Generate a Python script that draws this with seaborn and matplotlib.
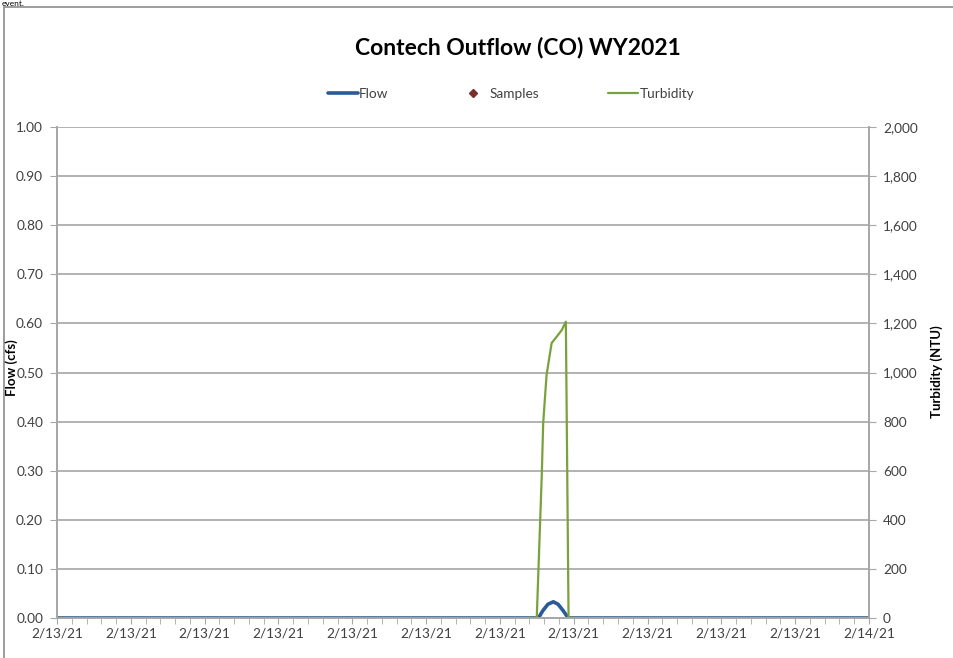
import numpy as np
import pandas as pd
import matplotlib
matplotlib.use('Agg')
import matplotlib.pyplot as plt
import seaborn as sns
from matplotlib.lines import Line2D
from matplotlib.patches import Rectangle

# hours since 2/13/21 00:00
flow_hours = [0, 14.23, 14.36, 14.51, 14.67, 14.81, 14.96, 15.11, 24]
flow_cfs = [0, 0, 0.015, 0.028, 0.033, 0.028, 0.015, 0, 0]

turb_hours = [0, 14.18, 14.33, 14.37, 14.47, 14.62, 14.77, 14.92, 15.04, 15.12, 24]
turb_ntu = [0, 0, 590, 794, 990, 1120, 1146, 1173, 1207, 0, 0]

sample_hours = []
sample_flow = []

tick_labels = ['2/13/21'] * 11 + ['2/14/21']

sns.set_style('white')
plt.rcParams['font.family'] = ['Lato', 'DejaVu Sans']

flow_color = '#2B5A96'
turb_color = '#77A33A'
sample_color = '#7B2C2C'
grid_color = '#A6A6A6'
text_color = '#404040'

fig = plt.figure(figsize=(9.54, 6.58), dpi=100)
ax = fig.add_axes([57 / 954, 1 - 618 / 658, 812 / 954, 491 / 658])
ax2 = ax.twinx()

flow_df = pd.DataFrame({'hours': flow_hours, 'flow': flow_cfs})
turb_df = pd.DataFrame({'hours': turb_hours, 'turb': turb_ntu})

sns.lineplot(data=flow_df, x='hours', y='flow', ax=ax, color=flow_color, linewidth=2.6, legend=False)
ax.scatter(sample_hours, sample_flow, marker='D', color=sample_color, s=20)
sns.lineplot(data=turb_df, x='hours', y='turb', ax=ax2, color=turb_color, linewidth=1.6, legend=False)

ax.set_xlim(0, 24)
ax.set_ylim(0, 1.0)
ax2.set_ylim(0, 2000)
ax.set_xticks(np.linspace(0, 24, 12))
ax.set_xticklabels(tick_labels)
ax.set_xticks(np.linspace(0, 24, 56), minor=True)
ax.set_yticks(np.arange(0, 1.01, 0.1))
ax.set_yticklabels([f'{v:.2f}' for v in np.arange(0, 1.01, 0.1)])
ax2.set_yticks(np.arange(0, 2001, 200))
ax2.set_yticklabels([f'{v:,}' for v in range(0, 2001, 200)])

ax.yaxis.grid(True, color=grid_color, linewidth=1.2)
ax.set_axisbelow(True)

for a in (ax, ax2):
    a.spines['top'].set_visible(False)
    for s in ('left', 'right', 'bottom'):
        a.spines[s].set_color(grid_color)
        a.spines[s].set_linewidth(1.2)

ax.tick_params(axis='x', which='both', direction='out', length=4, color=grid_color,
               labelsize=9.8, labelcolor=text_color, pad=3, bottom=True)
ax.tick_params(axis='y', direction='out', length=5, color=grid_color,
               labelsize=9.8, labelcolor=text_color, pad=5, left=True)
ax2.tick_params(axis='y', direction='out', length=5, color=grid_color,
                labelsize=9.8, labelcolor=text_color, pad=5, right=True)

ax.set_xlabel('')
ax.set_ylabel('')
ax2.set_ylabel('')
fig.text(12 / 954, 1 - 368 / 658, 'Flow (cfs)', rotation=90, ha='center', va='center',
         fontsize=9.5, fontweight='bold', color='black')
fig.text(937 / 954, 1 - 372 / 658, 'Turbidity (NTU)', rotation=90, ha='center', va='center',
         fontsize=9.5, fontweight='bold', color='black')

fig.text(518 / 954, 1 - 47 / 658, 'Contech Outflow (CO) WY2021', ha='center', va='center',
         fontsize=16.5, fontweight='bold', color='black')

handles = [
    Line2D([], [], color=flow_color, linewidth=2.6),
    Line2D([], [], color=sample_color, marker='D', linestyle='none', markersize=4.5),
    Line2D([], [], color=turb_color, linewidth=1.6),
]
fig.legend(handles, ['Flow', 'Samples', 'Turbidity'], loc='center', ncol=3,
           bbox_to_anchor=(511 / 954, 1 - 94 / 658), frameon=False, fontsize=9.8,
           handlelength=2.2, handletextpad=0.1, columnspacing=5.1, labelcolor=text_color)

# chart border and the caption line above it
fig.patches.append(Rectangle((4 / 954, -0.01), 1.0, 1 - 7 / 658 + 0.01, transform=fig.transFigure,
                             fill=False, edgecolor='#8C8C8C', linewidth=1.2))
fig.text(2 / 954, 1 - 6 / 658, 'event.', ha='left', va='baseline', fontsize=6, color='black')

fig.savefig('out.png', dpi=100)
